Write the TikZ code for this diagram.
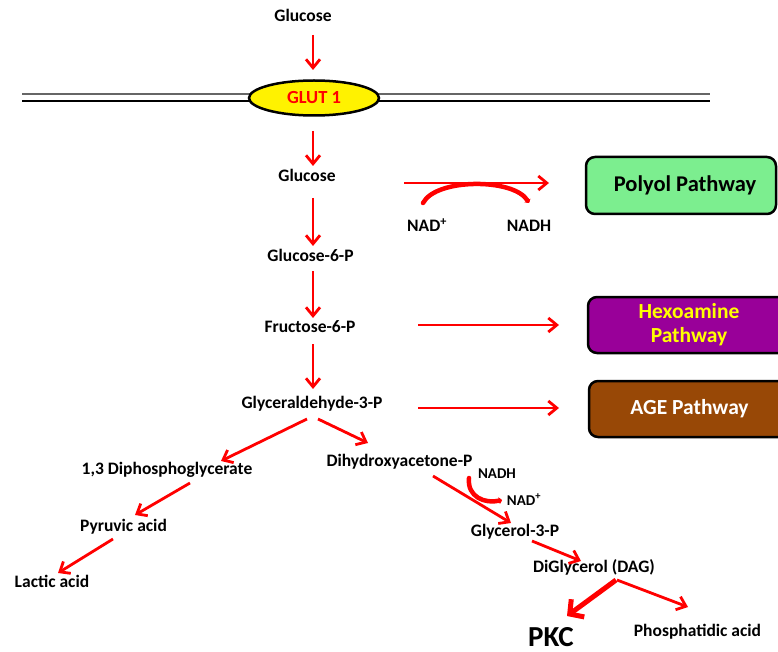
\documentclass[tikz,border=0pt]{standalone}
\usepackage{fontspec}
\setmainfont{Carlito}
\usetikzlibrary{arrows.meta,shapes.geometric}
\definecolor{polyolgreen}{RGB}{124,238,143}
\definecolor{hexpurple}{RGB}{153,0,153}
\definecolor{agebrown}{RGB}{152,72,6}
\definecolor{hexyellow}{RGB}{255,255,0}
\tikzset{
  lbl/.style={inner sep=0pt, anchor=base, font=\fontsize{17.5}{20}\selectfont\bfseries},
  smalllbl/.style={inner sep=0pt, anchor=base, font=\fontsize{15}{18}\selectfont\bfseries},
  arr/.style={draw=red, line width=2.8pt, -{Straight Barb[length=8.5pt,width=14pt]}},
  thickarr/.style={draw=red, line width=5pt, -{Straight Barb[length=10pt,width=22pt]}},
  cofactor/.style={draw=red, line width=4.5pt, line cap=round, -{Triangle[length=3pt,width=7pt]}},
  pathbox/.style={draw=black, line width=2.5pt, rounded corners=9pt, inner sep=0pt,
     font=\fontsize{21.5}{26}\selectfont\bfseries, align=center},
  membrane/.style={line width=1.3pt}
}
\begin{document}
\begin{tikzpicture}[x=1pt,y=-1pt]
\useasboundingbox (0,0) rectangle (778,652);
\clip (0,0) rectangle (778,652);

% membrane
\draw[membrane, black!60] (22,94) -- (710,94);
\draw[membrane, black] (22,101) -- (710,101);

% GLUT1
\node[ellipse, draw=black, line width=2.5pt, fill=yellow, minimum width=130pt, minimum height=35pt, inner sep=0pt,
      text=red, font=\fontsize{18.5}{22}\selectfont\bfseries] (glut) at (314,98) {GLUT 1};

% labels
\node[lbl] (glcout) at (303,22) {Glucose};
\node[lbl] (glcin) at (307,182) {Glucose};
\node[lbl] (g6p) at (310.5,261) {Glucose-6-P};
\node[lbl] (f6p) at (310,332) {Fructose-6-P};
\node[lbl] (gap) at (312,408) {Glyceraldehyde-3-P};
\node[lbl] (dpg) at (167,474) {1,3 Diphosphoglycerate};
\node[lbl] (dhap) at (399.5,466) {Dihydroxyacetone-P};
\node[lbl] (pyr) at (123.5,531) {Pyruvic acid};
\node[lbl] (lac) at (52,587) {Lactic acid};
\node[lbl] (g3p) at (515,536) {Glycerol-3-P};
\node[lbl] (dag) at (594,572) {DiGlycerol (DAG)};
\node[inner sep=0pt, anchor=base, font=\fontsize{29}{34}\selectfont\bfseries] (pkc) at (551,646) {PKC};
\node[lbl] (pa) at (697.5,636) {Phosphatidic acid};
\node[lbl] (nadp1) at (427,232) {NAD\textsuperscript{+}};
\node[lbl] (nadh1) at (529,232) {NADH};
\node[smalllbl] (nadh2) at (497,478) {NADH};
\node[smalllbl] (nadp2) at (524,505) {NAD\textsuperscript{+}};

% pathway boxes
\node[pathbox, fill=polyolgreen, minimum width=190pt, minimum height=57pt, font=\fontsize{22.5}{26}\selectfont\bfseries] (polyol) at (681,185.5) {\hspace*{8pt}Polyol Pathway};
\node[pathbox, fill=hexpurple, text=hexyellow, minimum width=202pt, minimum height=56pt] (hexo) at (689,325) {Hexoamine\\[-2pt]Pathway};
\node[pathbox, fill=agebrown, text=white, minimum width=201pt, minimum height=56pt] (age) at (689.5,409) {AGE Pathway};

% connector end points
\coordinate (a1s) at (313,35);   \coordinate (a1e) at (313,70);
\coordinate (a2s) at (313,131);  \coordinate (a2e) at (313,166);
\coordinate (a3s) at (313,198);  \coordinate (a3e) at (313,246);
\coordinate (a4s) at (313,271);  \coordinate (a4e) at (313,318);
\coordinate (a5s) at (313,344);  \coordinate (a5e) at (313,389);
\coordinate (a6s) at (307,419);  \coordinate (a6e) at (221,461);
\coordinate (a7s) at (318,419);  \coordinate (a7e) at (368,443);
\coordinate (a8s) at (190,483);  \coordinate (a8e) at (135,515);
\coordinate (a9s) at (113,539);  \coordinate (a9e) at (58,573);
\coordinate (a10s) at (433,476); \coordinate (a10e) at (511,523);
\coordinate (a11s) at (532,541); \coordinate (a11e) at (581,561);
\coordinate (a12s) at (616,580); \coordinate (a12e) at (567,616);
\coordinate (a13s) at (617,580); \coordinate (a13e) at (688,607);
\coordinate (p1s) at (404,183);  \coordinate (p1e) at (549,183);
\coordinate (p2s) at (418,325);  \coordinate (p2e) at (559,325);
\coordinate (p3s) at (418,408);  \coordinate (p3e) at (559,408);
\coordinate (c1s) at (423,203);  \coordinate (c1e) at (529,203);
\coordinate (c2s) at (469,478);  \coordinate (c2e) at (502,500);

% main pathway arrows
\draw[arr] (a1s) -- (a1e);
\draw[arr] (a2s) -- (a2e);
\draw[arr] (a3s) -- (a3e);
\draw[arr] (a4s) -- (a4e);
\draw[arr] (a5s) -- (a5e);
\draw[arr] (a6s) -- (a6e);
\draw[arr] (a7s) -- (a7e);
\draw[arr] (a8s) -- (a8e);
\draw[arr] (a9s) -- (a9e);
\draw[arr] (a10s) -- (a10e);
\draw[arr] (a11s) -- (a11e);
\draw[thickarr] (a12s) -- (a12e);
\draw[arr] (a13s) -- (a13e);

% side pathway arrows
\draw[arr] (p1s) -- (p1e);
\draw[arr] (p2s) -- (p2e);
\draw[arr] (p3s) -- (p3e);

% cofactor curves
\draw[cofactor] (c1s) .. controls (436,178) and (514,178) .. (c1e);
\draw[cofactor] (c2s) .. controls (467,497) and (485,504) .. (c2e);
\end{tikzpicture}
\end{document}
